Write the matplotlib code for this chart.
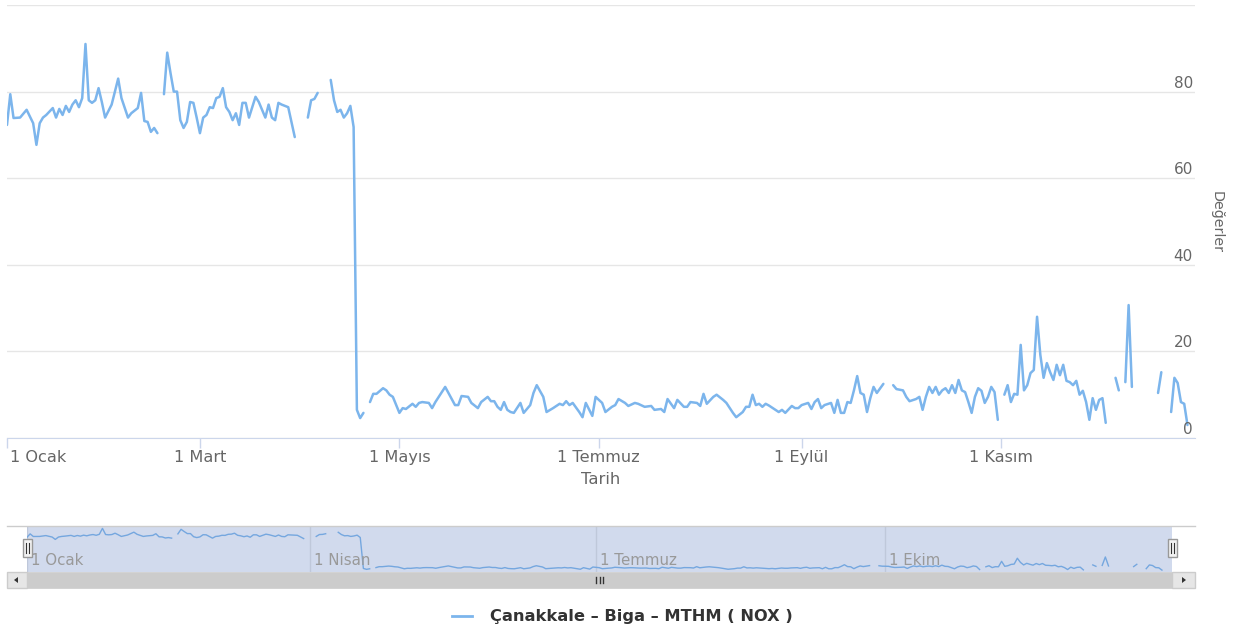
"""Çanakkale – Biga – MTHM NOX günlük değerleri (Highcharts stock görünümü)."""
import numpy as np
import pandas as pd
import matplotlib
matplotlib.use("Agg")
import matplotlib.pyplot as plt
from matplotlib.lines import Line2D
from matplotlib.patches import Rectangle, Polygon
from matplotlib.transforms import ScaledTranslation

W, H = 1236, 632
YIL = pd.Timestamp("2015-01-01")

# gün (1 Ocak = 0) ve NOX değeri; None = veri yok (çizgide boşluk)
gun = [0, 1, 2, 4, 6, 8, 9, 10, 11, 12, 14, 15, 16, 17, 18, 19, 20, 21, 22, 23,
       24, 25, 26, 27, 28, 29, 30, 32, 34, 35, 37, 38, 40, 41, 42, 43, 44, 45, 46, 47,
       48, 49, 50, 51, 52, 53, 54, 55, 56, 57, 58, 59, 60, 61, 62, 63, 64, 65, 66, 67,
       68, 69, 70, 71, 72, 73, 74, 75, 76, 77, 79, 80, 81, 82, 83, 84, 86, 88, 90, 92,
       93, 94, 95, 97, 99, 100, 101, 102, 103, 104, 105, 106, 107, 108, 109, 110, 111, 112, 113, 115,
       116, 117, 118, 120, 121, 122, 124, 125, 126, 127, 129, 130, 131, 134, 135, 137, 138, 139, 141, 142,
       144, 145, 147, 148, 149, 150, 151, 152, 153, 154, 155, 157, 158, 160, 161, 162, 164, 165, 167, 169,
       170, 171, 172, 173, 175, 176, 177, 179, 180, 182, 183, 185, 186, 187, 189, 190, 192, 193, 195, 197,
       198, 200, 201, 202, 204, 205, 207, 208, 209, 211, 212, 213, 214, 216, 217, 219, 220, 222, 223, 225,
       226, 227, 228, 229, 230, 231, 232, 233, 235, 236, 237, 238, 240, 241, 242, 243, 245, 246, 247, 248,
       249, 250, 252, 253, 254, 255, 256, 257, 258, 259, 260, 261, 262, 263, 264, 265, 266, 268, 269, 271,
       272, 274, 275, 276, 278, 279, 280, 281, 282, 283, 284, 285, 286, 287, 288, 289, 290, 291, 292, 293,
       294, 295, 296, 297, 298, 299, 300, 301, 302, 303, 304, 305, 306, 307, 308, 309, 310, 311, 312, 313,
       314, 315, 316, 317, 318, 319, 320, 321, 322, 323, 324, 325, 326, 327, 328, 329, 330, 331, 332, 333,
       334, 335, 336, 337, 339, 340, 341, 342, 343, 344, 348, 352, 353, 354, 356, 357, 358, 359, 360, 361]
nox = [72.3, 79.4, 73.9, 74.0, 75.8, 72.7, 67.7, 72.7, 74.0, 74.6, 76.2, 74.0, 76.0, 74.6, 76.7, 75.3, 77.0, 78.0, 76.4, 78.5,
       91.0, 78.0, 77.4, 78.0, 80.8, 77.6, 74.0, 77.0, 83.0, 78.5, 74.0, 75.0, 76.2, 79.7, 73.2, 73.0, 70.7, 71.6, 70.4, None,
       79.4, 89.0, 84.3, 80.0, 80.0, 73.4, 71.6, 73.0, 77.6, 77.4, 74.0, 70.4, 74.0, 74.6, 76.4, 76.2, 78.5, 78.8, 80.8, 76.4,
       75.3, 73.4, 75.0, 72.3, 77.4, 77.4, 74.0, 76.4, 78.8, 77.6, 74.0, 77.0, 74.0, 73.4, 77.4, 77.0, 76.4, 69.5, None, 74.0,
       78.0, 78.3, 79.7, None, 82.7, 78.0, 75.3, 75.8, 74.0, 75.0, 76.7, 71.8, 6.5, 4.6, 5.8, None, 8.3, 10.2, 10.2, 11.5,
       11.0, 10.0, 9.5, 5.8, 6.9, 6.7, 7.9, 7.2, 8.1, 8.3, 8.1, 6.9, 8.3, 11.8, 10.4, 7.6, 7.6, 9.7, 9.5, 8.1,
       6.9, 8.3, 9.5, 8.5, 8.5, 7.2, 6.5, 8.3, 6.5, 6.0, 5.8, 8.1, 5.8, 7.6, 10.4, 12.2, 9.5, 6.0, 6.9, 7.9,
       7.6, 8.5, 7.6, 8.1, 6.0, 4.8, 8.1, 5.1, 9.5, 8.1, 6.0, 7.2, 7.6, 9.0, 8.1, 7.4, 8.1, 7.9, 7.2, 7.4,
       6.5, 6.7, 6.0, 9.0, 6.9, 8.8, 7.2, 7.2, 8.3, 8.1, 7.4, 10.2, 7.9, 9.5, 10.0, 8.8, 8.1, 5.8, 4.8, 6.0,
       7.2, 7.2, 10.0, 7.6, 7.9, 7.2, 7.9, 7.5, 6.5, 6.0, 6.5, 5.8, 7.4, 6.9, 6.9, 7.6, 8.1, 6.7, 8.3, 9.0,
       6.9, 7.6, 8.1, 5.8, 8.8, 5.8, 5.8, 8.3, 8.1, 11.0, 14.3, 10.4, 10.0, 6.0, 9.2, 11.8, 10.4, 12.5, None, 12.2,
       11.3, 11.0, 9.5, 8.5, 9.0, 9.5, 6.5, 9.5, 11.8, 10.4, 11.8, 10.0, 11.0, 11.5, 10.4, 12.2, 10.4, 13.4, 11.0, 10.6,
       8.3, 5.8, 9.5, 11.5, 10.9, 8.1, 9.5, 11.8, 10.6, 4.2, None, 10.0, 12.2, 8.3, 10.2, 10.0, 21.5, 11.0, 12.2, 15.0,
       15.7, 28.0, 19.2, 13.9, 17.3, 15.2, 13.4, 16.9, 14.5, 16.9, 13.2, 12.9, 12.2, 13.2, 10.0, 10.9, 8.3, 4.2, 9.2, 6.5,
       8.8, 9.2, 3.5, None, 13.9, 11.0, None, 12.9, 30.7, 11.8, None, 10.4, 15.2, None, 6.0, 13.9, 12.7, 8.3, 7.9, 3.0]

ana_ay_no = [1, 3, 5, 7, 9, 11]
ana_aylar = ["1 Ocak", "1 Mart", "1 Mayıs", "1 Temmuz", "1 Eylül", "1 Kasım"]
nav_ay_no = [1, 4, 7, 10]
nav_aylar = ["1 Ocak", "1 Nisan", "1 Temmuz", "1 Ekim"]
y_degerler = [0, 20, 40, 60, 80]
seri_adi = "Çanakkale – Biga – MTHM ( NOX )"

MAVI = "#7cb5ec"
GRI_YAZI = "#666666"


def fx(px):
    return px / W


def fy(py):
    return 1 - py / H


def ay_gunu(m):
    return (pd.Timestamp(2015, m, 1) - YIL).days


x = np.array(gun, dtype=float)
y = np.array([np.nan if v is None else v for v in nox], dtype=float)

plt.rcParams["font.family"] = ["DejaVu Sans"]
fig = plt.figure(figsize=(W / 100, H / 100), dpi=100)

# ── ana grafik ───────────────────────────────────────────────────────────
ax = fig.add_axes([fx(7), fy(438), fx(1195 - 7), (438 - 5) / H])
ax.plot(x, y, color=MAVI, lw=1.8, solid_joinstyle="round", solid_capstyle="round", zorder=3)
ax.set_xlim(0, 363.3)
ax.set_ylim(0, 100)
ax.set_yticks([0, 20, 40, 60, 80, 100])
ax.yaxis.grid(True, color="#e6e6e6", lw=1)
ax.tick_params(axis="y", length=0, labelleft=False)
for s in ("top", "left", "right"):
    ax.spines[s].set_visible(False)
ax.spines["bottom"].set_color("#ccd6eb")
ax.set_xticks([ay_gunu(m) for m in ana_ay_no])
ax.set_xticklabels(ana_aylar)
ax.tick_params(axis="x", length=7.2, width=1, color="#ccd6eb", pad=1.5,
               labelsize=11.6, labelcolor=GRI_YAZI)
ilk = ax.get_xticklabels()[0]
ilk.set_horizontalalignment("left")
ilk.set_transform(ilk.get_transform() + ScaledTranslation(3 / 100, 0, fig.dpi_scale_trans))
for v in y_degerler:
    ax.annotate(str(v), xy=(1, v), xycoords=("axes fraction", "data"),
                xytext=(-2, 1), textcoords="offset pixels",
                ha="right", va="bottom", fontsize=11, color=GRI_YAZI)

fig.text(fx(601), fy(480), "Tarih", ha="center", va="center", fontsize=11.8, color=GRI_YAZI)
fig.text(fx(1217), fy(222), "Değerler", ha="center", va="center", rotation=-90,
         fontsize=10.3, color=GRI_YAZI)

# ── navigator ────────────────────────────────────────────────────────────
fig.add_artist(Line2D([fx(7), fx(1195)], [fy(525.5), fy(525.5)], color="#cccccc", lw=1))
nav = fig.add_axes([fx(27), fy(572), fx(1172 - 27), (572 - 526) / H])
nav.set_facecolor("#d1daed")
nav.plot(x, y, color="#75a7df", lw=1, zorder=3)
nav.set_xlim(0, 364.2)
nav.set_ylim(-1, 96)
nav.set_yticks([])
nav.set_xticks([ay_gunu(m) for m in nav_ay_no])
nav.tick_params(axis="x", length=0, labelbottom=False)
nav.xaxis.grid(True, color="#bfc8da", lw=1)
for s in nav.spines.values():
    s.set_visible(False)
for m, lab in zip(nav_ay_no, nav_aylar):
    nav.annotate(lab, xy=(ay_gunu(m), 0), xycoords=("data", "axes fraction"),
                 xytext=(4, 4), textcoords="offset pixels",
                 ha="left", va="bottom", fontsize=10.8, color="#999999", zorder=4)

# tutamaçlar
for hx in (27, 1172):
    fig.add_artist(Rectangle((fx(hx - 4.5), fy(557)), 9 / W, 18 / H,
                             facecolor="#f2f2f2", edgecolor="#999999", lw=1))
    for dx in (-1.5, 1.5):
        fig.add_artist(Line2D([fx(hx + dx), fx(hx + dx)], [fy(553), fy(543)],
                              color="#333333", lw=0.8))

# kaydırma çubuğu
fig.add_artist(Rectangle((fx(27), fy(588)), (1172 - 27) / W, 16 / H,
                         facecolor="#cccccc", edgecolor="#cccccc", lw=0.5))
for bx0, bx1 in ((7, 27), (1172, 1195)):
    fig.add_artist(Rectangle((fx(bx0), fy(588)), (bx1 - bx0) / W, 16 / H,
                             facecolor="#e6e6e6", edgecolor="#cccccc", lw=1))
fig.add_artist(Polygon([(fx(14), fy(580)), (fx(18), fy(577)), (fx(18), fy(583))],
                       closed=True, facecolor="#333333", edgecolor="none"))
fig.add_artist(Polygon([(fx(1186), fy(580)), (fx(1182), fy(577)), (fx(1182), fy(583))],
                       closed=True, facecolor="#333333", edgecolor="none"))
for gx in (596, 599.5, 603):
    fig.add_artist(Line2D([fx(gx), fx(gx)], [fy(583), fy(577)], color="#333333", lw=1))

# ── lejant ───────────────────────────────────────────────────────────────
fig.add_artist(Line2D([fx(452), fx(472)], [fy(616), fy(616)], color=MAVI, lw=2))
fig.text(fx(490), fy(616), seri_adi, ha="left", va="center", fontsize=11.7,
         fontweight="bold", color="#333333")

fig.savefig("out.png", dpi=100)
